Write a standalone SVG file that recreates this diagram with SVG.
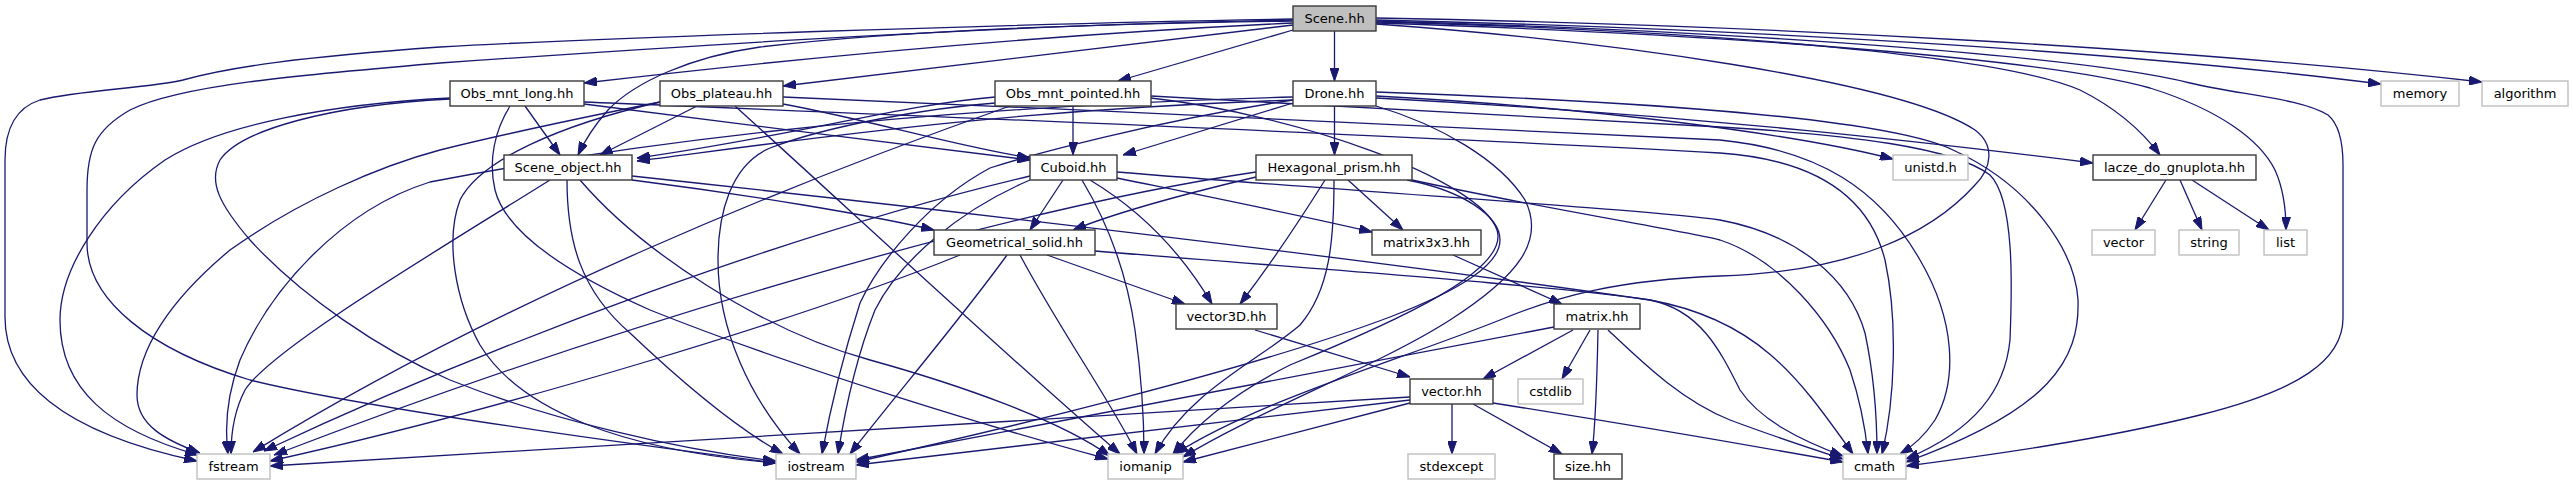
<svg xmlns="http://www.w3.org/2000/svg" width="2573" height="485" viewBox="0 0 2573 485">
<style>
.n rect{fill:#ffffff;stroke:#3a3a3a;stroke-width:1.4}
.x rect{fill:#ffffff;stroke:#bfbfbf;stroke-width:1.4}
.r rect{fill:#bfbfbf;stroke:#3a3a3a;stroke-width:1.4}
text{font-family:"DejaVu Sans","Liberation Sans",sans-serif;font-size:13px;fill:#000;text-anchor:middle}
#edges path{fill:none;stroke:#191970;stroke-width:1.3;marker-end:url(#ah)}
</style>
<defs>
<marker id="ah" viewBox="0 0 13 9" refX="13" refY="4.5" markerWidth="13" markerHeight="9" markerUnits="userSpaceOnUse" orient="auto">
<path d="M0,0 L13,4.5 L0,9 z" fill="#191970" stroke="#191970" stroke-width="1"/>
</marker>
</defs>
<rect width="2573" height="485" fill="#ffffff"/>
<g id="edges">
<path d="M1334.5,31 L1334.5,81"/>
<path d="M1293,30 L1118,81"/>
<path d="M1293,25 L783,86"/>
<path d="M1293,23 C1100,32 850,52 584,83"/>
<path d="M1293,21 C1050,24 870,34 760,47 C690,57 635,82 608,110 C594,126 585,140 578,155"/>
<path d="M1293,19 C1000,24 600,38 440,47 C300,57 230,67 183,80 C150,88 80,90 40,100 C15,108 5,130 5,160 L5,317 C5,380 60,432 197,461"/>
<path d="M1293,20 C1000,25 700,45 440,63 C300,75 180,85 130,110 C95,130 87,150 87,190 L87,243 C87,300 150,350 250,380 C350,405 600,440 776,463"/>
<path d="M1376,20 C1800,30 2150,55 2381,84"/>
<path d="M1376,18 C1800,26 2200,50 2482,82"/>
<path d="M1376,22 C1700,30 2000,55 2080,90 C2120,110 2145,135 2160,155"/>
<path d="M1376,23 C1750,35 2050,60 2150,88 C2220,110 2260,140 2275,170 C2284,190 2286,210 2286,230"/>
<path d="M1376,21 C1800,33 2100,60 2190,83 C2240,95 2300,98 2328,115 C2340,125 2343,145 2343,165 L2343,318 C2343,360 2300,390 2200,415 C2100,440 1990,455 1906,466"/>
<path d="M1376,24 C1600,40 1900,80 1975,130 C1995,145 1992,168 1975,185 C1930,235 1850,272 1720,276 C1620,280 1560,295 1500,320 C1400,360 1260,400 1175,454"/>
<path d="M525,106 L560,155"/>
<path d="M584,104 C700,118 900,145 1030,160"/>
<path d="M450,98 C330,104 220,125 165,160 C100,205 60,270 60,320 C60,390 110,430 198,455"/>
<path d="M450,99 C330,105 240,130 220,160 C208,182 220,205 250,240 C300,295 380,350 450,380 C550,420 680,450 776,461"/>
<path d="M510,106 C495,130 488,160 495,190 C505,230 560,270 650,310 C800,370 1000,430 1108,459"/>
<path d="M584,102 C900,115 1400,135 1720,153 C1820,160 1870,200 1885,260 C1898,320 1895,400 1882,454"/>
<path d="M697,106 L600,155"/>
<path d="M783,104 C870,120 950,145 1030,158"/>
<path d="M660,102 C580,118 500,135 440,150 C380,166 300,200 230,250 C170,300 137,350 137,395 C137,425 165,440 200,453"/>
<path d="M660,102 C560,125 480,160 460,200 C445,240 455,300 480,345 C520,410 620,450 776,463"/>
<path d="M735,106 C850,210 1000,350 1120,454"/>
<path d="M783,97 C1100,110 1500,130 1720,140 C1820,150 1880,190 1920,260 C1955,320 1958,380 1935,420 C1925,435 1915,445 1900,454"/>
<path d="M1073,106 L1073,155"/>
<path d="M995,97 C900,105 800,135 637,158"/>
<path d="M995,103 C930,108 830,125 770,148 C730,165 718,215 718,260 C718,330 750,400 800,454"/>
<path d="M1151,98 C1300,115 1480,180 1497,230 C1510,270 1400,320 1290,365 C1240,390 1200,420 1173,454"/>
<path d="M1151,96 C1400,110 1600,120 1720,127 C1850,135 1953,147 1990,175 C2015,200 2012,290 2010,340 C2005,390 1975,430 1906,459"/>
<path d="M1010,106 C800,180 500,300 253,452"/>
<path d="M1334.5,106 L1334.5,155"/>
<path d="M1293,103 L1123,155"/>
<path d="M1293,100 C1000,110 800,140 637,161"/>
<path d="M1293,97 C1000,105 700,130 430,182 C340,210 270,290 240,360 C225,400 225,430 228,454"/>
<path d="M1293,100 C1160,120 1030,155 990,168 C930,200 880,260 860,303 C845,350 830,410 822,454"/>
<path d="M1376,106 C1440,125 1500,160 1525,200 C1545,240 1520,275 1450,320 C1380,365 1260,410 1183,457"/>
<path d="M1376,96 C1600,108 1800,135 1893,159"/>
<path d="M1376,98 C1700,115 1950,145 2093,163"/>
<path d="M1376,92 C1600,100 1880,115 1953,150 C2030,185 2075,250 2078,300 C2080,360 2050,410 1906,462"/>
<path d="M632,180 C750,195 870,215 934,230"/>
<path d="M550,180 C430,255 270,350 245,390 C232,415 231,440 231,454"/>
<path d="M567,180 C567,240 580,290 630,333 C690,390 740,430 783,454"/>
<path d="M580,180 C640,250 760,330 870,360 C960,385 1060,420 1110,456"/>
<path d="M632,176 C900,205 1300,250 1650,300 C1760,320 1800,380 1853,454"/>
<path d="M1063,180 L1030,230"/>
<path d="M1117,178 C1200,195 1300,215 1372,232"/>
<path d="M1090,180 C1140,210 1180,250 1212,304"/>
<path d="M1082,180 C1100,210 1125,260 1135,330 C1142,380 1144,420 1144,454"/>
<path d="M1030,176 C800,230 500,340 264,451"/>
<path d="M1030,180 C960,210 900,260 875,310 C855,360 845,410 838,454"/>
<path d="M1117,172 C1400,195 1650,210 1720,220 C1800,235 1850,280 1865,333 C1875,380 1877,420 1877,454"/>
<path d="M1256,177 C1180,195 1110,215 1073,230"/>
<path d="M1348,180 L1403,230"/>
<path d="M1325,180 C1300,220 1270,265 1240,304"/>
<path d="M1334,180 C1334,240 1330,290 1300,325 C1260,360 1190,390 1155,454"/>
<path d="M1256,172 C1000,210 600,330 274,455"/>
<path d="M1407,180 C1460,190 1500,215 1500,240 C1500,265 1460,290 1390,317 C1250,370 1000,430 856,462"/>
<path d="M1412,180 C1550,210 1680,230 1720,240 C1780,260 1830,320 1850,370 C1860,400 1865,425 1868,454"/>
<path d="M1047,255 L1185,304"/>
<path d="M960,255 C800,320 500,410 270,461"/>
<path d="M1007,255 C960,320 900,390 850,454"/>
<path d="M1020,255 C1060,330 1110,400 1137,454"/>
<path d="M1095,251 C1300,268 1550,285 1650,300 C1700,310 1720,350 1740,390 C1760,420 1800,440 1843,456"/>
<path d="M1255,330 L1410,377"/>
<path d="M1453,255 L1562,304"/>
<path d="M1573,330 L1483,379"/>
<path d="M1590,330 L1562,379"/>
<path d="M1598,330 C1597,380 1596,420 1592,454"/>
<path d="M1608,330 C1640,360 1680,400 1730,420 C1770,435 1800,445 1843,459"/>
<path d="M1554,327 L856,460"/>
<path d="M1452,404 L1452,454"/>
<path d="M1473,404 L1562,454"/>
<path d="M1493,403 C1600,420 1720,440 1843,462"/>
<path d="M1410,397 L270,466"/>
<path d="M1410,400 L856,465"/>
<path d="M1410,403 L1183,462"/>
<path d="M2166,180 L2135,230"/>
<path d="M2180,180 L2202,230"/>
<path d="M2192,180 L2269,230"/>
</g>
<g id="Scene" class="r"><rect x="1293" y="6" width="83" height="25"/><text x="1334.5" y="22.5">Scene.hh</text></g>
<g id="Obs_mnt_long" class="n"><rect x="450" y="81" width="134" height="25"/><text x="517" y="97.5">Obs_mnt_long.hh</text></g>
<g id="Obs_plateau" class="n"><rect x="660" y="81" width="123" height="25"/><text x="721.5" y="97.5">Obs_plateau.hh</text></g>
<g id="Obs_mnt_pointed" class="n"><rect x="995" y="81" width="156" height="25"/><text x="1073" y="97.5">Obs_mnt_pointed.hh</text></g>
<g id="Drone" class="n"><rect x="1293" y="81" width="83" height="25"/><text x="1334.5" y="97.5">Drone.hh</text></g>
<g id="memory" class="x"><rect x="2381" y="81" width="78" height="25"/><text x="2420" y="97.5">memory</text></g>
<g id="algorithm" class="x"><rect x="2482" y="81" width="86" height="25"/><text x="2525" y="97.5">algorithm</text></g>
<g id="Scene_object" class="n"><rect x="504" y="155" width="128" height="25"/><text x="568" y="171.5">Scene_object.hh</text></g>
<g id="Cuboid" class="n"><rect x="1030" y="155" width="87" height="25"/><text x="1073.5" y="171.5">Cuboid.hh</text></g>
<g id="Hexagonal_prism" class="n"><rect x="1256" y="155" width="156" height="25"/><text x="1334" y="171.5">Hexagonal_prism.hh</text></g>
<g id="unistd" class="x"><rect x="1893" y="155" width="75" height="25"/><text x="1930.5" y="171.5">unistd.h</text></g>
<g id="lacze_do_gnuplota" class="n"><rect x="2093" y="155" width="163" height="25"/><text x="2174.5" y="171.5">lacze_do_gnuplota.hh</text></g>
<g id="Geometrical_solid" class="n"><rect x="934" y="230" width="161" height="25"/><text x="1014.5" y="246.5">Geometrical_solid.hh</text></g>
<g id="matrix3x3" class="n"><rect x="1372" y="230" width="109" height="25"/><text x="1426.5" y="246.5">matrix3x3.hh</text></g>
<g id="vector_std" class="x"><rect x="2092" y="230" width="63" height="25"/><text x="2123.5" y="246.5">vector</text></g>
<g id="string" class="x"><rect x="2179" y="230" width="60" height="25"/><text x="2209" y="246.5">string</text></g>
<g id="list" class="x"><rect x="2264" y="230" width="43" height="25"/><text x="2285.5" y="246.5">list</text></g>
<g id="vector3D" class="n"><rect x="1176" y="304" width="101" height="25"/><text x="1226.5" y="320.5">vector3D.hh</text></g>
<g id="matrix" class="n"><rect x="1554" y="304" width="86" height="25"/><text x="1597" y="320.5">matrix.hh</text></g>
<g id="vector_hh" class="n"><rect x="1410" y="379" width="83" height="25"/><text x="1451.5" y="395.5">vector.hh</text></g>
<g id="cstdlib" class="x"><rect x="1518" y="379" width="65" height="25"/><text x="1550.5" y="395.5">cstdlib</text></g>
<g id="fstream" class="x"><rect x="197" y="454" width="73" height="25"/><text x="233.5" y="470.5">fstream</text></g>
<g id="iostream" class="x"><rect x="776" y="454" width="80" height="25"/><text x="816" y="470.5">iostream</text></g>
<g id="iomanip" class="x"><rect x="1108" y="454" width="75" height="25"/><text x="1145.5" y="470.5">iomanip</text></g>
<g id="stdexcept" class="x"><rect x="1408" y="454" width="87" height="25"/><text x="1451.5" y="470.5">stdexcept</text></g>
<g id="size" class="n"><rect x="1554" y="454" width="68" height="25"/><text x="1588" y="470.5">size.hh</text></g>
<g id="cmath" class="x"><rect x="1843" y="454" width="63" height="25"/><text x="1874.5" y="470.5">cmath</text></g>
</svg>
